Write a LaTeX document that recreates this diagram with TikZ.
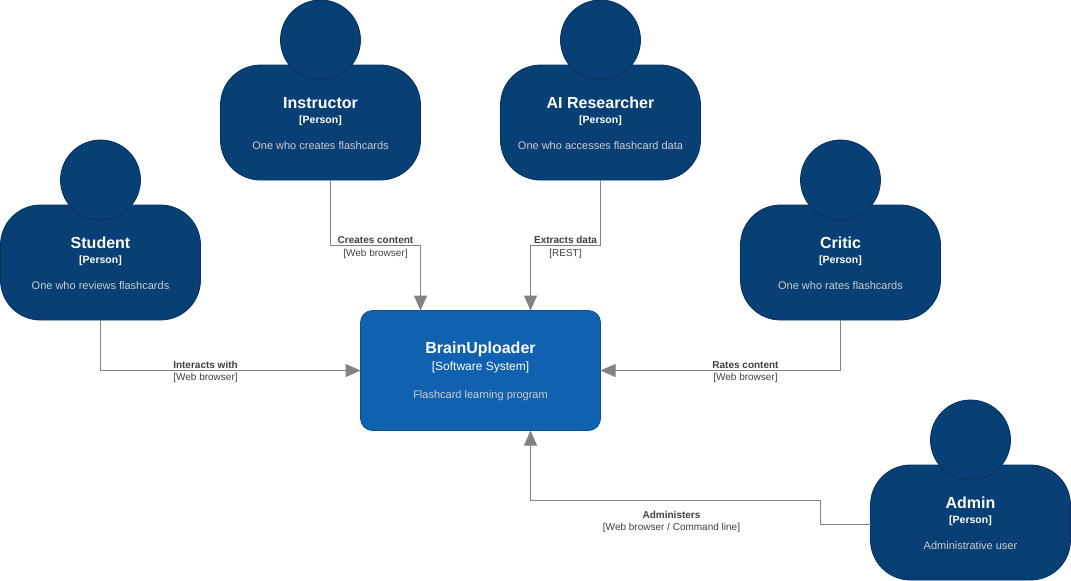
\documentclass[tikz,border=0pt]{standalone}
\usepackage{fontspec}
\setmainfont{Liberation Sans}
\usetikzlibrary{arrows.meta}
\definecolor{personfill}{HTML}{083F75}
\definecolor{personline}{HTML}{06315C}
\definecolor{sysfill}{HTML}{1061B0}
\definecolor{sysline}{HTML}{0D5091}
\definecolor{conn}{HTML}{828282}
\definecolor{lbl}{HTML}{404040}
\definecolor{desc}{HTML}{CCCCCC}
\tikzset{
  x=1pt,y=-1pt,
  txt/.style={inner sep=0pt,outer sep=0pt,anchor=base,align=center},
  persontitle/.style={txt,text=white,font=\fontsize{16}{16}\selectfont\bfseries},
  typetext/.style={txt,text=white,font=\fontsize{10.5}{11}\selectfont\bfseries},
  desctext/.style={txt,text=desc,font=\fontsize{11}{11}\selectfont},
  personbody/.style={draw=personline,fill=personfill,line width=0.8pt,rounded corners=40pt,minimum width=200pt,minimum height=115pt,inner sep=0pt,outer sep=0pt},
  personhead/.style={circle,draw=personline,fill=personfill,line width=0.8pt,minimum size=80pt,inner sep=0pt,outer sep=0pt},
  sysbox/.style={draw=sysline,fill=sysfill,line width=0.8pt,rounded corners=12pt,minimum width=240pt,minimum height=120pt,inner sep=0pt,outer sep=0pt},
  link/.style={draw=conn,line width=1pt,-{Triangle[length=15pt,width=13pt,fill=conn]}},
  linkhead/.style={txt,fill=white,text=lbl,font=\fontsize{10}{12}\selectfont\bfseries,inner xsep=1.5pt,inner ysep=1pt},
  linkhow/.style={txt,text=lbl,font=\fontsize{10}{12}\selectfont},
}
% #1 id, #2 centre x, #3 body top y, #4 name, #5 description
\newcommand{\personbox}[5]{%
  \node[personbody] (#1) at (#2,#3+57.5) {};
  \node[personhead] (#1-head) at (#2,#3-25) {};
  \node[persontitle] (#1-name) at (#2,#3+43.5) {#4};
  \node[typetext] (#1-type) at (#2,#3+58) {[Person]};
  \node[desctext] (#1-desc) at (#2,#3+84) {#5};
}
% #1 id, #2 x, #3 baseline y of first line, #4 head, #5 technology
\newcommand{\linklabel}[5]{%
  \node[linkhead] (#1-a) at (#2,#3) {#4};
  \node[linkhow] (#1-b) at (#2,#3+12.5) {#5};
}
\begin{document}
\begin{tikzpicture}
\useasboundingbox (0,0) rectangle (1071,581);
\personbox{student}{100.5}{205}{Student}{One who reviews flashcards}
\personbox{instructor}{320.5}{65}{Instructor}{One who creates flashcards}
\personbox{researcher}{600.5}{65}{AI Researcher}{One who accesses flashcard data}
\personbox{critic}{840.5}{205}{Critic}{One who rates flashcards}
\personbox{admin}{970.5}{465}{Admin}{Administrative user}
\node[sysbox] (sys) at (480.5,370.5) {};
\node[persontitle] (sys-name) at (480.5,353.5) {BrainUploader};
\node[txt,text=white,font=\fontsize{12}{12}\selectfont] (sys-type) at (480.5,370) {[Software System]};
\node[desctext] (sys-desc) at (480.5,398) {Flashcard learning program};
\coordinate (out1) at (330.5,180.5);
\coordinate (in1) at (420.5,310.5);
\coordinate (in2) at (530.5,310.5);
\coordinate (in3) at (530.5,430.5);
\coordinate (ad1) at (820.5,500.5);
\coordinate (ad2) at (820.5,524.5);
\draw[link] (student.south) |- (sys.west);
\draw[link] (out1) |- (375,245.5) -| (in1);
\draw[link] (researcher.south) |- (565,245.5) -| (in2);
\draw[link] (critic.south) |- (sys.east);
\draw[link] (admin.west |- ad2) -- (ad2) -- (ad1) -| (in3);
\linklabel{l1}{205.5}{368}{Interacts with}{[Web browser]}
\linklabel{l2}{375.5}{243.5}{Creates content}{[Web browser]}
\linklabel{l3}{565.5}{243.5}{Extracts data}{[REST]}
\linklabel{l4}{745.5}{368}{Rates content}{[Web browser]}
\linklabel{l5}{671.5}{518}{Administers}{[Web browser / Command line]}
\end{tikzpicture}
\end{document}
